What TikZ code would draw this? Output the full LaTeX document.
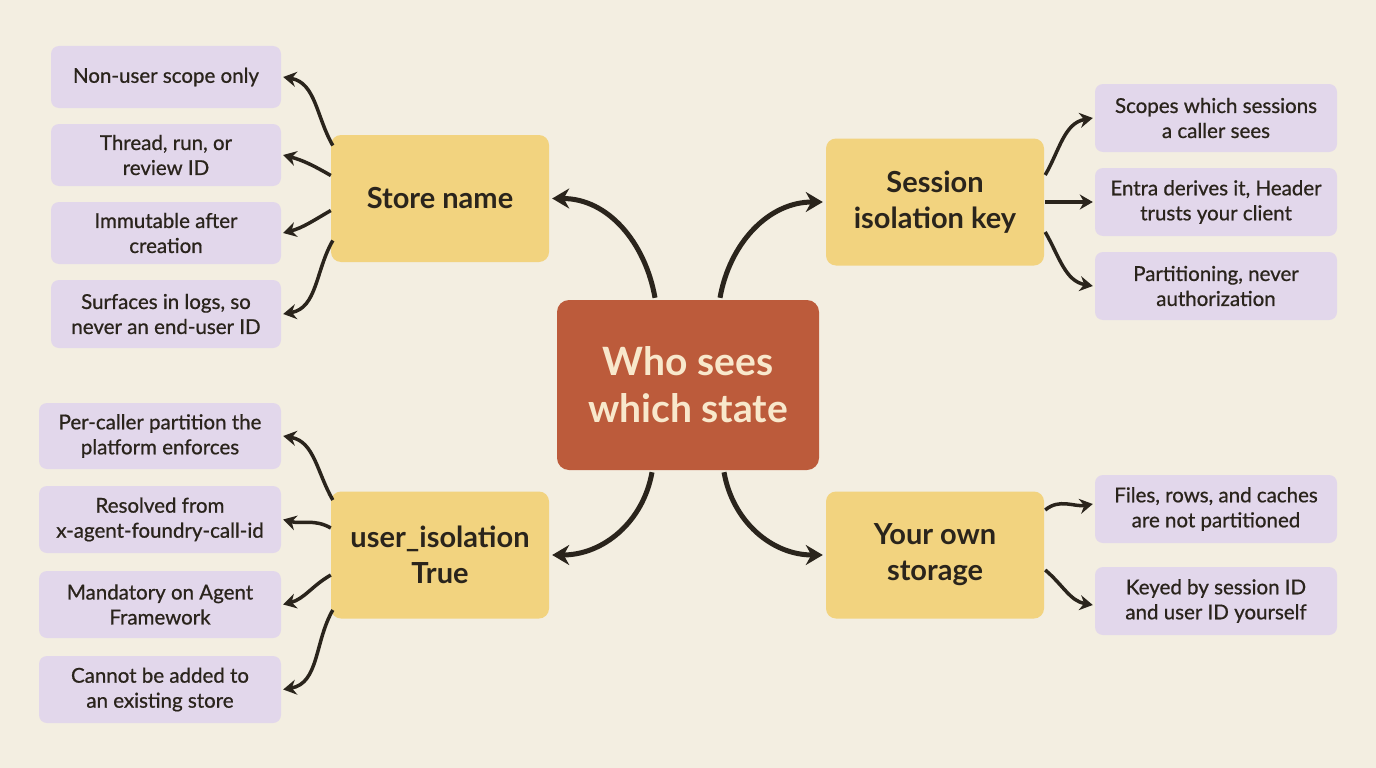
\documentclass[tikz,border=0pt]{standalone}
\usepackage{fontspec}
\setmainfont{Lato}
\newfontfamily\leaffont{Lato}[FakeBold=0.8]
\usetikzlibrary{arrows.meta}
\definecolor{bg}{HTML}{F3EEE1}
\definecolor{ctr}{HTML}{BC5B3B}
\definecolor{ctrtxt}{HTML}{F8E8CC}
\definecolor{yel}{HTML}{F2D37F}
\definecolor{pur}{HTML}{E2D7EB}
\definecolor{ink}{HTML}{2A241C}
\begin{document}
\begin{tikzpicture}[x=1pt,y=-1pt,
  ctrbox/.style={draw=none,fill=ctr,rounded corners=12pt,minimum width=262pt,minimum height=170pt,text=ctrtxt,font=\fontsize{39}{47}\selectfont\bfseries,align=center},
  mid/.style={fill=yel,rounded corners=10pt,minimum width=218pt,minimum height=127pt,text=ink,font=\fontsize{29}{36}\selectfont\bfseries,align=center},
  leaf/.style={fill=pur,rounded corners=8pt,minimum height=66pt,text=ink,font=\leaffont\fontsize{20.5}{25}\selectfont,align=center},
  big/.style={draw=ink,line width=5pt,-{Stealth[length=17pt,width=20pt]}},
  sm/.style={draw=ink,line width=3.5pt,-{Stealth[length=13pt,width=15pt]}}]
\fill[bg] (0,0) rectangle (1376,768);
\useasboundingbox (0,0) rectangle (1376,768);
\node[ctrbox] (c) at (688,385) {Who sees\\which state};
\node[mid] (sn) at (440,198.5) {Store name};
\node[mid] (sk) at (935,202) {Session\\isolation key};
\node[mid] (ui) at (440,555) {user\_isolation\\True};
\node[mid] (os) at (935,555) {Your own\\storage};
% left top leaves
\node[leaf,minimum width=230pt,minimum height=62pt] (l1) at (166,77) {Non-user scope only};
\node[leaf,minimum width=230pt,minimum height=62pt] (l2) at (166,155) {Thread, run, or\\review ID};
\node[leaf,minimum width=230pt,minimum height=62pt] (l3) at (166,233) {Immutable after\\creation};
\node[leaf,minimum width=230pt,minimum height=68pt] (l4) at (166,314) {Surfaces in logs, so\\never an end-user ID};
% left bottom
\node[leaf,minimum width=242pt] (b1) at (160,436) {Per-caller partition the\\platform enforces};
\node[leaf,minimum width=242pt,minimum height=67pt] (b2) at (160,519.5) {Resolved from\\x-agent-foundry-call-id};
\node[leaf,minimum width=242pt,minimum height=67pt] (b3) at (160,604.5) {Mandatory on Agent\\Framework};
\node[leaf,minimum width=242pt,minimum height=67pt] (b4) at (160,689.5) {Cannot be added to\\an existing store};
% right top
\node[leaf,minimum width=242pt,minimum height=68pt] (r1) at (1216,118) {Scopes which sessions\\a caller sees};
\node[leaf,minimum width=242pt,minimum height=68pt] (r2) at (1216,202) {Entra derives it, Header\\trusts your client};
\node[leaf,minimum width=242pt,minimum height=68pt] (r3) at (1216,286) {Partitioning, never\\authorization};
% right bottom
\node[leaf,minimum width=242pt,minimum height=68pt] (s1) at (1216,509) {Files, rows, and caches\\are not partitioned};
\node[leaf,minimum width=242pt,minimum height=68pt] (s2) at (1216,601) {Keyed by session ID\\and user ID yourself};
% big arrows
\draw[big] ([xshift=-33pt,yshift=2pt]c.north) to[out=100,in=0] ([xshift=3pt]sn.east);
\draw[big] ([xshift=32pt,yshift=2pt]c.north) to[out=80,in=180] ([xshift=-3pt]sk.west);
\draw[big] ([xshift=-36pt,yshift=-2pt]c.south) to[out=260,in=0] ([xshift=3pt]ui.east);
\draw[big] ([xshift=36pt,yshift=-2pt]c.south) to[out=280,in=180] ([xshift=-3pt]os.west);
% small arrows left top
\draw[sm] ([xshift=2pt,yshift=53pt]sn.west) to[out=120,in=-10] ([xshift=2pt]l1.east);
\draw[sm] ([yshift=23pt]sn.west) to[out=150,in=-15] ([xshift=2pt]l2.east);
\draw[sm] ([yshift=-12pt]sn.west) to[out=210,in=15] ([xshift=2pt]l3.east);
\draw[sm] ([xshift=2pt,yshift=-42pt]sn.west) to[out=240,in=10] ([xshift=2pt]l4.east);
% left bottom
\draw[sm] ([xshift=2pt,yshift=55pt]ui.west) to[out=120,in=-10] ([xshift=2pt]b1.east);
\draw[sm] ([yshift=27pt]ui.west) to[out=150,in=-15] ([xshift=2pt]b2.east);
\draw[sm] ([yshift=-20pt]ui.west) to[out=210,in=15] ([xshift=2pt]b3.east);
\draw[sm] ([xshift=2pt,yshift=-55pt]ui.west) to[out=240,in=10] ([xshift=2pt]b4.east);
% right top
\draw[sm] ([xshift=1pt,yshift=27pt]sk.east) to[out=60,in=190] ([xshift=-2pt]r1.west);
\draw[sm] ([xshift=1pt]sk.east) -- ([xshift=-2pt]r2.west);
\draw[sm] ([xshift=1pt,yshift=-30pt]sk.east) to[out=-60,in=170] ([xshift=-2pt]r3.west);
% right bottom
\draw[sm] ([xshift=1pt,yshift=45pt]os.east) to[out=40,in=190] ([xshift=-2pt,yshift=5pt]s1.west);
\draw[sm] ([xshift=1pt,yshift=-15pt]os.east) to[out=-40,in=170] ([xshift=-2pt,yshift=-4pt]s2.west);
\end{tikzpicture}
\end{document}
